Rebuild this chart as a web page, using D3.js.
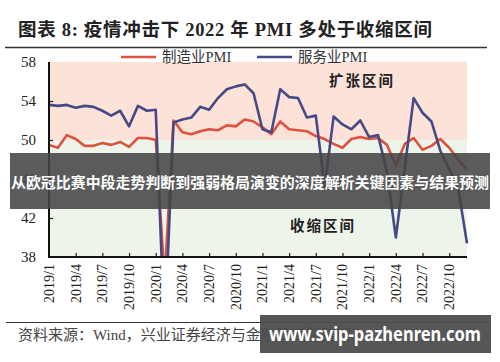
<!DOCTYPE html>
<html>
<head>
<meta charset="utf-8">
<script src="https://cdn.jsdelivr.net/npm/d3@7"></script>
<style>
  body { margin: 0; background: #fff; }
  svg { display: block; }
</style>
</head>
<body>
<svg id="chart" width="500" height="362"></svg>
<script>
// monthly PMI, 2019/1 .. 2022/12
var months = d3.range(48);
var manufacturing = [
  49.5, 49.2, 50.5, 50.1, 49.4, 49.4, 49.7, 49.5, 49.8, 49.3, 50.2, 50.2,
  50.0, 35.7, 52.0, 50.8, 50.6, 50.9, 51.1, 51.0, 51.5, 51.4, 52.1, 51.9,
  51.3, 50.6, 51.9, 51.1, 51.0, 50.9, 50.4, 50.1, 49.6, 49.2, 50.1, 50.3,
  50.1, 50.2, 49.5, 47.4, 49.6, 50.2, 49.0, 49.4, 50.1, 49.2, 48.0, 47.0
];
var services = [
  53.6, 53.5, 53.6, 53.3, 53.5, 53.4, 53.0, 52.5, 53.0, 51.4, 53.5, 53.0,
  53.1, 30.1, 51.8, 52.1, 52.3, 53.4, 53.1, 54.3, 55.2, 55.5, 55.7, 54.8,
  51.1, 50.8, 55.2, 54.4, 54.3, 52.3, 52.5, 45.2, 52.4, 51.6, 51.1, 52.0,
  50.3, 50.5, 46.7, 40.0, 47.1, 54.3, 52.8, 51.9, 48.9, 47.0, 45.1, 39.4
];
var tickMonths = [0, 3, 6, 9, 12, 15, 18, 21, 24, 27, 30, 33, 36, 39, 42, 45];
var tickLabels = ["2019/1", "2019/4", "2019/7", "2019/10", "2020/1", "2020/4", "2020/7", "2020/10",
                  "2021/1", "2021/4", "2021/7", "2021/10", "2022/1", "2022/4", "2022/7", "2022/10"];
var yTicks = [38, 42, 46, 50, 54, 58];
var seriesNames = ["制造业PMI", "服务业PMI"];

var serif = "'Liberation Serif', 'Noto Sans CJK SC', serif";
var red = "#de5240", blue = "#454a86";

var svg = d3.select("#chart");
var plotL = 49, plotR = 467, plotT = 62, plotB = 257;

var x = d3.scaleLinear().domain([0, 47]).range([plotL, plotR]);
var y = d3.scaleLinear().domain([38, 58]).range([plotB, plotT]);

// title
svg.append("text")
  .attr("x", 18).attr("y", 36)
  .attr("font-family", serif).attr("font-weight", "bold")
  .attr("font-size", 18.5).attr("fill", "#222")
  .attr("textLength", 414).attr("lengthAdjust", "spacing")
  .text("图表 8:  疫情冲击下 2022 年 PMI 多处于收缩区间");
svg.append("line").attr("x1", 5).attr("x2", 487).attr("y1", 47.5).attr("y2", 47.5)
  .attr("stroke", "#333").attr("stroke-width", 1.5);

// zones
svg.append("rect").attr("x", plotL).attr("y", y(58)).attr("width", plotR - plotL)
  .attr("height", y(50) - y(58)).attr("fill", "#fce2d7");
svg.append("rect").attr("x", plotL).attr("y", y(50)).attr("width", plotR - plotL)
  .attr("height", y(38) - y(50)).attr("fill", "#edf4ea");

svg.append("text").attr("x", 362).attr("y", 86).attr("text-anchor", "middle")
  .attr("font-family", serif).attr("font-weight", "bold").attr("font-size", 14.5)
  .attr("fill", "#222").attr("letter-spacing", 2).text("扩张区间");
svg.append("text").attr("x", 323).attr("y", 231).attr("text-anchor", "middle")
  .attr("font-family", serif).attr("font-weight", "bold").attr("font-size", 14.5)
  .attr("fill", "#222").attr("letter-spacing", 2).text("收缩区间");

// lines
svg.append("clipPath").attr("id", "plot")
  .append("rect").attr("x", plotL).attr("y", plotT - 5).attr("width", plotR - plotL + 5).attr("height", plotB - plotT + 5);

var line = d3.line().x(function(d, i) { return x(months[i]); }).y(function(d) { return y(d); });

svg.append("path").datum(manufacturing).attr("d", line).attr("clip-path", "url(#plot)")
  .attr("fill", "none").attr("stroke", red).attr("stroke-width", 2.6).attr("stroke-linejoin", "round");
svg.append("path").datum(services).attr("d", line).attr("clip-path", "url(#plot)")
  .attr("fill", "none").attr("stroke", blue).attr("stroke-width", 2.6).attr("stroke-linejoin", "round");

// axes
var yAxis = d3.axisRight(y).tickValues(yTicks.slice(1, -1)).tickSize(4).tickFormat("");
var gy = svg.append("g").attr("transform", "translate(" + plotL + ",0)").call(yAxis);
gy.select(".domain").remove();
gy.selectAll("line").attr("stroke", "#222").attr("stroke-width", 1.2);

svg.selectAll(".ylab").data(yTicks).enter().append("text")
  .attr("class", "ylab")
  .attr("x", 36).attr("y", function(d) { return y(d); }).attr("dy", "0.35em")
  .attr("text-anchor", "end").attr("font-family", serif).attr("font-size", 15)
  .attr("fill", "#222").text(function(d) { return d; });

var xAxis = d3.axisTop(x).tickValues(tickMonths.slice(1)).tickSize(4).tickFormat("");
var gx = svg.append("g").attr("transform", "translate(0," + plotB + ")").call(xAxis);
gx.select(".domain").remove();
gx.selectAll("line").attr("stroke", "#222").attr("stroke-width", 1.2);

svg.append("path").attr("d", "M" + plotL + "," + plotT + "V" + plotB + "H" + plotR)
  .attr("fill", "none").attr("stroke", "#111").attr("stroke-width", 2);

svg.selectAll(".xlab").data(tickMonths).enter().append("text")
  .attr("class", "xlab")
  .attr("transform", function(d) { return "translate(" + x(d) + "," + (plotB + 7) + ") rotate(-90)"; })
  .attr("dy", "0.35em").attr("text-anchor", "end")
  .attr("font-family", serif).attr("font-size", 14).attr("fill", "#222")
  .text(function(d, i) { return tickLabels[i]; });

// legend
var legend = svg.selectAll(".leg").data(seriesNames).enter().append("g")
  .attr("class", "leg")
  .attr("transform", function(d, i) { return "translate(" + (i === 0 ? 121 : 257) + ",57)"; });
legend.append("line").attr("x1", 0).attr("x2", 35)
  .attr("stroke", function(d, i) { return i === 0 ? red : blue; }).attr("stroke-width", 2.6);
legend.append("text").attr("x", 41).attr("dy", "0.35em")
  .attr("font-family", serif).attr("font-size", 14.5).attr("fill", "#333")
  .text(function(d) { return d; });

// source
svg.append("line").attr("x1", 6).attr("x2", 487).attr("y1", 322.5).attr("y2", 322.5)
  .attr("stroke", "#333").attr("stroke-width", 1.2);
svg.append("text").attr("x", 18).attr("y", 340)
  .attr("font-family", serif).attr("font-size", 15).attr("fill", "#444")
  .text("资料来源：Wind，兴业证券经济与金融研究院整理");

// overlay banners
svg.append("rect").attr("x", 10).attr("y", 153).attr("width", 480).attr("height", 56)
  .attr("fill", "#454545").attr("opacity", 0.88);
svg.append("text").attr("x", 250).attr("y", 183).attr("dy", "0.35em").attr("text-anchor", "middle")
  .attr("font-family", "'Noto Sans CJK SC', sans-serif").attr("font-weight", "bold")
  .attr("font-size", 14.5).attr("fill", "#fff")
  .attr("textLength", 478).attr("lengthAdjust", "spacingAndGlyphs")
  .text("从欧冠比赛中段走势判断到强弱格局演变的深度解析关键因素与结果预测");

svg.append("rect").attr("x", 260).attr("y", 315).attr("width", 231).attr("height", 38)
  .attr("fill", "#4d4d4d").attr("opacity", 0.95);
svg.append("text").attr("x", 375).attr("y", 334).attr("dy", "0.35em").attr("text-anchor", "middle")
  .attr("font-family", "'Noto Sans', 'DejaVu Sans', sans-serif").attr("font-weight", "bold")
  .attr("font-size", 19).attr("fill", "#fff")
  .attr("textLength", 212).attr("lengthAdjust", "spacingAndGlyphs")
  .text("www.svip-pazhenren.com");
</script>
</body>
</html>
